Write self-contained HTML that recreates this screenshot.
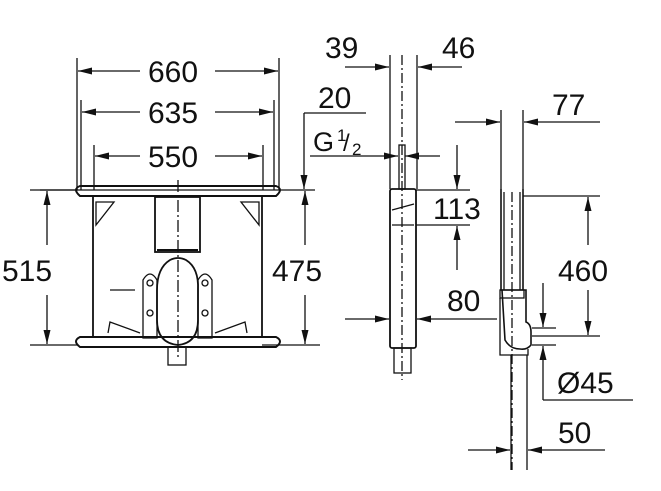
<!DOCTYPE html>
<html><head><meta charset="utf-8"><style>
html,body{margin:0;padding:0;background:#fff;}
svg{display:block;}
text{font-family:"Liberation Sans",sans-serif;font-size:30px;fill:#111;}
</style></head><body>
<svg width="661" height="491" viewBox="0 0 661 491" xmlns="http://www.w3.org/2000/svg">
<defs>
<marker id="b" viewBox="0 0 14 7" refX="14" refY="3.5" markerWidth="14" markerHeight="7" markerUnits="userSpaceOnUse" orient="auto"><path d="M0,0L14,3.5L0,7z" fill="#111"/></marker>
</defs>
<g stroke="#111" stroke-width="1.3" fill="none">
<line x1="77" y1="58" x2="77" y2="190"/><line x1="279" y1="58" x2="279" y2="190"/>
<line x1="81" y1="100" x2="81" y2="190"/><line x1="274" y1="100" x2="274" y2="190"/>
<line x1="94" y1="145" x2="94" y2="190"/><line x1="263" y1="145" x2="263" y2="190"/>
<line x1="140" y1="71" x2="78" y2="71" marker-end="url(#b)"/><line x1="215" y1="71" x2="278" y2="71" marker-end="url(#b)"/>
<line x1="140" y1="112" x2="82" y2="112" marker-end="url(#b)"/><line x1="215" y1="112" x2="273" y2="112" marker-end="url(#b)"/>
<line x1="140" y1="156" x2="95" y2="156" marker-end="url(#b)"/><line x1="215" y1="156" x2="262" y2="156" marker-end="url(#b)"/>
<line x1="40" y1="190" x2="315" y2="190"/>
<path d="M80,186 H276 Q284,189 276,196 H80 Q72,189 80,186z" stroke-width="2"/>
<path d="M80,337 H276 Q284,341 276,347 H80 Q72,341 80,337z" stroke-width="2"/>
<line x1="93" y1="196" x2="93" y2="337" stroke-width="1.8"/><line x1="262" y1="196" x2="262" y2="337" stroke-width="1.8"/>
<path d="M96,202 L114,202 L96,225z"/><path d="M259,202 L241,202 L259,225z"/>
<path d="M108,333 L110,322 L140,333"/><path d="M247,333 L245,322 L215,333"/>
<rect x="155" y="197" width="45" height="55" stroke-width="1.8"/>
<line x1="157" y1="250" x2="198" y2="250" stroke-width="2"/>
<path d="M170,260 Q178,256 186,260 Q199,268 198,290 V320 Q198,343 178,345 Q157,343 157,320 V290 Q157,268 170,260z" stroke-width="1.8"/>
<path d="M143,280 Q150,268 157,280 V338 H143z"/><path d="M198,280 Q205,268 212,280 V338 H198z"/>
<circle cx="150" cy="283" r="3"/><circle cx="150" cy="313" r="3"/><circle cx="205" cy="283" r="3"/><circle cx="205" cy="313" r="3"/>
<line x1="110" y1="290" x2="135" y2="290"/>
<line x1="178" y1="180" x2="178" y2="360" stroke-dasharray="12,3,2,3"/>
<rect x="168" y="347" width="18" height="18"/>
<line x1="30" y1="345" x2="78" y2="345"/><line x1="30" y1="190" x2="78" y2="190"/>
<line x1="262" y1="345" x2="320" y2="345"/>
<line x1="47" y1="245" x2="47" y2="191" marker-end="url(#b)"/><line x1="47" y1="295" x2="47" y2="344" marker-end="url(#b)"/>
<line x1="305" y1="245" x2="305" y2="191" marker-end="url(#b)"/><line x1="305" y1="295" x2="305" y2="344" marker-end="url(#b)"/>
<line x1="304" y1="113" x2="366" y2="113"/><line x1="304" y1="113" x2="304" y2="189" marker-end="url(#b)"/>
<line x1="310" y1="156" x2="398" y2="156" marker-end="url(#b)"/>
<line x1="440" y1="156" x2="405" y2="156" marker-end="url(#b)"/>
<line x1="390" y1="55" x2="390" y2="189"/><line x1="417" y1="55" x2="417" y2="189"/>
<line x1="402" y1="55" x2="402" y2="380" stroke-dasharray="10,3,2,3"/>
<line x1="345" y1="67" x2="389" y2="67" marker-end="url(#b)"/><line x1="462" y1="67" x2="418" y2="67" marker-end="url(#b)"/>
<rect x="399" y="145" width="6" height="44"/>
<rect x="390" y="189" width="26" height="159" rx="2" stroke-width="1.8"/>
<line x1="392" y1="210" x2="414" y2="204"/><line x1="392" y1="225" x2="414" y2="225"/>
<rect x="394" y="348" width="17" height="25"/>
<line x1="416" y1="190" x2="470" y2="190"/><line x1="416" y1="225" x2="470" y2="225"/>
<line x1="457" y1="145" x2="457" y2="189" marker-end="url(#b)"/><line x1="457" y1="270" x2="457" y2="226" marker-end="url(#b)"/>
<line x1="345" y1="319" x2="389" y2="319" marker-end="url(#b)"/><line x1="497" y1="319" x2="417" y2="319" marker-end="url(#b)"/>
<line x1="501" y1="110" x2="501" y2="189"/><line x1="523" y1="110" x2="523" y2="189"/>
<line x1="455" y1="122" x2="500" y2="122" marker-end="url(#b)"/><line x1="600" y1="122" x2="524" y2="122" marker-end="url(#b)"/>
<path d="M501,189 V290 M523,189 V290" stroke-width="1.6"/>
<path d="M504,192 V290 M520,192 V290"/>
<line x1="512" y1="192" x2="512" y2="470" stroke-dasharray="10,3,2,3"/>
<path d="M500,290 H526 V322 Q531,324 531,332 V345 Q527,350 520,349 Q510,349 505,340 L502,290" stroke-width="1.6"/>
<rect x="500" y="290" width="24" height="8"/>
<path d="M500,298 V355 H528 V349"/>
<line x1="523" y1="196" x2="600" y2="196"/><line x1="532" y1="336" x2="600" y2="336"/>
<line x1="588" y1="245" x2="588" y2="197" marker-end="url(#b)"/><line x1="588" y1="290" x2="588" y2="335" marker-end="url(#b)"/>
<line x1="532" y1="328" x2="556" y2="328"/><line x1="532" y1="345" x2="556" y2="345"/>
<line x1="543" y1="283" x2="543" y2="327" marker-end="url(#b)"/>
<path d="M543,400 V346" marker-end="url(#b)"/><line x1="543" y1="400" x2="633" y2="400"/>
<line x1="511" y1="355" x2="511" y2="470"/><line x1="527" y1="355" x2="527" y2="470"/>
<line x1="468" y1="450" x2="510" y2="450" marker-end="url(#b)"/><line x1="605" y1="450" x2="528" y2="450" marker-end="url(#b)"/>
</g>
<text x="148" y="82">660</text>
<text x="148" y="123">635</text>
<text x="148" y="167">550</text>
<text x="2" y="281">515</text>
<text x="272" y="281">475</text>
<text x="318" y="108">20</text>
<text x="313" y="151" style="font-size:27px">G</text><text x="337" y="141" style="font-size:17px">1</text><text x="343" y="151" style="font-size:24px">/</text><text x="352" y="155" style="font-size:17px">2</text>
<text x="325" y="58">39</text>
<text x="442" y="58">46</text>
<text x="433" y="219">113</text>
<text x="447" y="311">80</text>
<text x="552" y="115">77</text>
<text x="558" y="281">460</text>
<text x="557" y="393">Ø45</text>
<text x="558" y="443">50</text>
</svg>
</body></html>
